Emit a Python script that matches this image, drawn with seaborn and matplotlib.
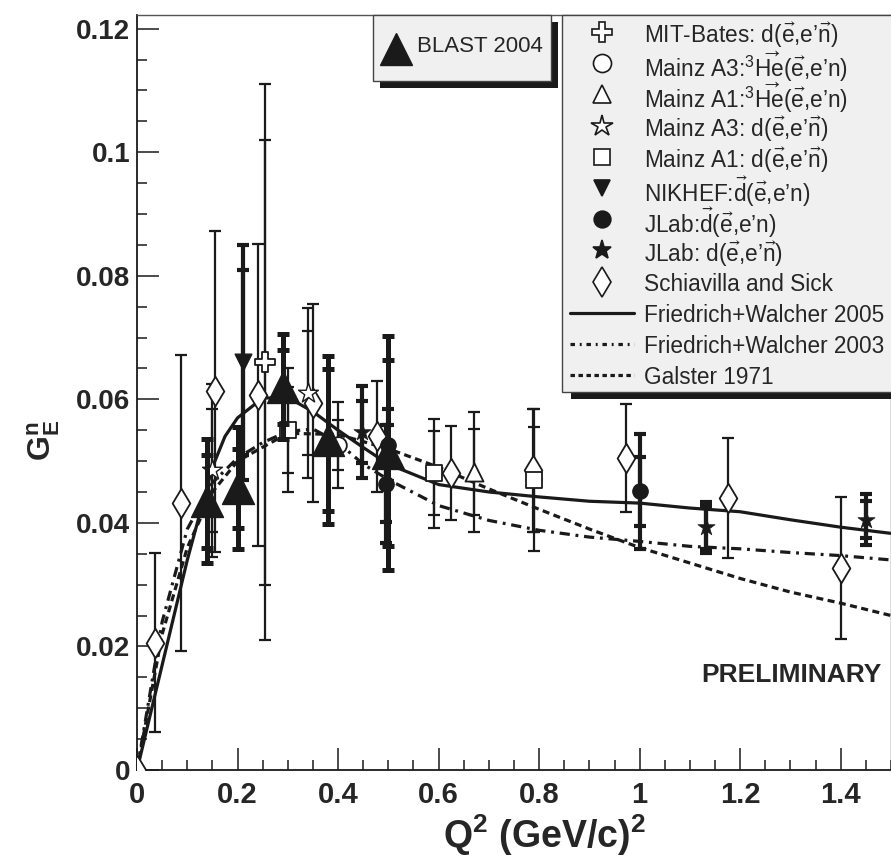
import matplotlib
matplotlib.use("Agg")
import matplotlib.pyplot as plt
import seaborn as sns
from matplotlib.patches import Rectangle
from matplotlib.ticker import MultipleLocator, FuncFormatter

# ---------------- data ----------------
# BLAST 2004
blast_q2 = [0.14, 0.20, 0.29, 0.38, 0.50]
blast_ge = [0.0435, 0.0456, 0.0620, 0.0534, 0.0513]
blast_stat = [0.0075, 0.0064, 0.0060, 0.0115, 0.0150]
blast_tot = [0.0100, 0.0099, 0.0085, 0.0136, 0.0190]

# MIT-Bates d(e,e'n)
bates_q2 = [0.255]
bates_ge = [0.066]
bates_stat = [0.036]
bates_tot = [0.045]

# Mainz A3 3He
a3he_q2 = [0.40]
a3he_ge = [0.0526]
a3he_stat = [0.0040]
a3he_tot = [0.0070]

# Mainz A1 3He
a1he_q2 = [0.67]
a1he_ge = [0.0482]
a1he_stat = [0.0070]
a1he_tot = [0.0097]

# Mainz A3 d(e,e'n)
a3d_q2 = [0.15, 0.34]
a3d_ge = [0.0485, 0.0610]
a3d_stat = [0.0100, 0.0100]
a3d_tot = [0.0140, 0.0138]

# Mainz A1 d(e,e'n)
a1d_q2 = [0.30, 0.59, 0.79]
a1d_ge = [0.0550, 0.0480, 0.0470]
a1d_stat = [0.0070, 0.0068, 0.0085]
a1d_tot = [0.0100, 0.0088, 0.0115]

# NIKHEF
nik_q2 = [0.21]
nik_ge = [0.066]
nik_stat = [0.015]
nik_tot = [0.019]

# JLab polarised deuterium target
jlt_q2 = [0.495, 0.50, 1.00]
jlt_ge = [0.0463, 0.0526, 0.0451]
jlt_stat = [0.0062, 0.0033, 0.0056]
jlt_tot = [0.0096, 0.0059, 0.0093]

# JLab recoil polarimetry
jlr_q2 = [0.447, 1.132, 1.45]
jlr_ge = [0.0547, 0.0393, 0.0405]
jlr_stat = [0.0050, 0.0035, 0.0030]
jlr_tot = [0.0075, 0.0041, 0.0041]

# Schiavilla and Sick
ss_q2 = [0.0, 0.035, 0.087, 0.155, 0.24, 0.35, 0.477, 0.624, 0.787, 0.973, 1.176, 1.40]
ss_ge = [0.0, 0.0206, 0.0432, 0.0613, 0.0607, 0.0594, 0.0540, 0.0480, 0.0485, 0.0505, 0.0440, 0.0327]
ss_err = [0.0, 0.0145, 0.0240, 0.0260, 0.0245, 0.0160, 0.0090, 0.0076, 0.0100, 0.0087, 0.0097, 0.0115]

# curves
fw05_q2 = [0.0, 0.025, 0.05, 0.075, 0.1, 0.125, 0.15, 0.175, 0.2, 0.25, 0.3, 0.35, 0.4, 0.45,
           0.5, 0.6, 0.7, 0.8, 0.9, 1.0, 1.1, 1.2, 1.3, 1.4, 1.5]
fw05_ge = [0.0, 0.0085, 0.017, 0.0255, 0.034, 0.0415, 0.049, 0.054, 0.057, 0.0602, 0.0603,
           0.0580, 0.0550, 0.0522, 0.0495, 0.0462, 0.0450, 0.0442, 0.0435, 0.0432, 0.0424,
           0.0418, 0.0405, 0.0393, 0.0383]
fw03_q2 = [0.0, 0.05, 0.1, 0.15, 0.2, 0.25, 0.3, 0.35, 0.4, 0.45, 0.5, 0.6, 0.7, 0.8, 0.9,
           1.0, 1.1, 1.2, 1.3, 1.4, 1.5]
fw03_ge = [0.0, 0.024, 0.039, 0.0465, 0.0505, 0.0530, 0.0548, 0.0552, 0.0530, 0.0495, 0.0470,
           0.0428, 0.0404, 0.0388, 0.0377, 0.0370, 0.0362, 0.0358, 0.0352, 0.0347, 0.0340]
gal_q2 = [0.0, 0.05, 0.1, 0.15, 0.2, 0.3, 0.4, 0.5, 0.6, 0.7, 0.8, 0.9, 1.0, 1.1, 1.2, 1.3,
          1.4, 1.5]
gal_ge = [0.0, 0.022, 0.036, 0.045, 0.050, 0.0545, 0.0543, 0.0520, 0.0490, 0.0455, 0.0422,
          0.0390, 0.0360, 0.0335, 0.0310, 0.0288, 0.0270, 0.0250]

xticks = [0, 0.2, 0.4, 0.6, 0.8, 1.0, 1.2, 1.4]
yticks = [0, 0.02, 0.04, 0.06, 0.08, 0.1, 0.12]

legend_labels = [
    r"MIT-Bates: d($\vec{\mathrm{e}}$,e’$\vec{\mathrm{n}}$)",
    r"Mainz A3:$^3\overrightarrow{\mathrm{He}}$($\vec{\mathrm{e}}$,e’n)",
    r"Mainz A1:$^3\overrightarrow{\mathrm{He}}$($\vec{\mathrm{e}}$,e’n)",
    r"Mainz A3: d($\vec{\mathrm{e}}$,e’$\vec{\mathrm{n}}$)",
    r"Mainz A1: d($\vec{\mathrm{e}}$,e’$\vec{\mathrm{n}}$)",
    r"NIKHEF:$\vec{\mathrm{d}}$($\vec{\mathrm{e}}$,e’n)",
    r"JLab:$\vec{\mathrm{d}}$($\vec{\mathrm{e}}$,e’n)",
    r"JLab: d($\vec{\mathrm{e}}$,e’$\vec{\mathrm{n}}$)",
    "Schiavilla and Sick",
    "Friedrich+Walcher 2005",
    "Friedrich+Walcher 2003",
    "Galster 1971",
]

# ---------------- style ----------------
sns.set_theme(style="ticks")
plt.rcParams["font.family"] = ["Liberation Sans", "DejaVu Sans"]
plt.rcParams["mathtext.fontset"] = "custom"
plt.rcParams["mathtext.rm"] = "Liberation Sans"
plt.rcParams["mathtext.it"] = "Liberation Sans:italic"
plt.rcParams["mathtext.bf"] = "Liberation Sans:bold"
plt.rcParams["mathtext.fallback"] = "stixsans"

dash_dot = (0, (3.2, 1.8, 0.9, 1.8))
dashed = (0, (2.2, 1.4))

fig = plt.figure(figsize=(8.91, 8.64), dpi=100)
ax = fig.add_axes([0.1538, 0.1088, 0.8462, 0.8738])

# curves
sns.lineplot(x=fw05_q2, y=fw05_ge, ax=ax, color="k", lw=2.3, sort=False, zorder=2)
sns.lineplot(x=fw03_q2, y=fw03_ge, ax=ax, color="k", lw=2.3, sort=False, zorder=2,
             linestyle=dash_dot)
sns.lineplot(x=gal_q2, y=gal_ge, ax=ax, color="k", lw=2.3, sort=False, zorder=2,
             linestyle=dashed)


def points(q2, ge, stat, tot, marker, ms, face, elw, mew, z=3):
    ax.errorbar(q2, ge, yerr=tot, fmt="none", ecolor="k", elinewidth=elw,
                capsize=4.5, capthick=elw, zorder=z)
    if stat is not None:
        ax.errorbar(q2, ge, yerr=stat, fmt="none", ecolor="k", elinewidth=elw,
                    capsize=4.5, capthick=elw, zorder=z)
    sns.scatterplot(x=q2, y=ge, ax=ax, marker=marker, s=ms ** 2, color=face,
                    edgecolor="k", linewidth=mew, zorder=z + 0.5, legend=False)


points(ss_q2, ss_ge, ss_err, None, "d", 15, "white", 1.6, 1.3)
points(bates_q2, bates_ge, bates_stat, bates_tot, "P", 14, "white", 1.6, 1.3)
points(a3he_q2, a3he_ge, a3he_stat, a3he_tot, "o", 12, "white", 1.6, 1.3)
points(a1he_q2, a1he_ge, a1he_stat, a1he_tot, "^", 13, "white", 1.6, 1.3)
points(a3d_q2, a3d_ge, a3d_stat, a3d_tot, "*", 15, "white", 1.6, 1.0)
points(a1d_q2, a1d_ge, a1d_stat, a1d_tot, "s", 12, "white", 1.6, 1.3)
points(nik_q2, nik_ge, nik_stat, nik_tot, "v", 12, "k", 3.0, 1.0)
points(jlt_q2, jlt_ge, jlt_stat, jlt_tot, "o", 11, "k", 3.0, 1.0)
points(jlr_q2, jlr_ge, jlr_stat, jlr_tot, "*", 13, "k", 3.0, 0.5)
points(blast_q2, blast_ge, blast_stat, blast_tot, "^", 23, "k", 3.6, 1.0, z=4)

# axes
ax.set_xlim(0, 1.5)
ax.set_ylim(0, 0.1222)
ax.set_xticks(xticks)
ax.set_yticks(yticks)
ax.xaxis.set_minor_locator(MultipleLocator(0.05))
ax.yaxis.set_minor_locator(MultipleLocator(0.005))
fmt = FuncFormatter(lambda v, p: f"{v:g}")
ax.xaxis.set_major_formatter(fmt)
ax.yaxis.set_major_formatter(fmt)
ax.tick_params(which="both", direction="in", top=False, right=False, width=1.1, color="k")
ax.tick_params(which="major", length=16, pad=5)
ax.tick_params(which="minor", length=7.5)
ax.tick_params(axis="y", which="major", labelsize=20)
ax.tick_params(axis="x", which="major", labelsize=21, pad=8)
for lab in ax.get_xticklabels() + ax.get_yticklabels():
    lab.set_fontweight("bold")
for s in ["left", "bottom"]:
    ax.spines[s].set_color("k")
    ax.spines[s].set_linewidth(1.3)
for s in ["top", "right"]:
    ax.spines[s].set_color("#555555")
    ax.spines[s].set_linewidth(1.0)

ax.set_xlabel(r"Q$^\mathbf{2}$ (GeV/c)$^\mathbf{2}$", fontsize=27, fontweight="bold")
ax.xaxis.set_label_coords(0.54, -0.056)
ax.set_ylabel(r"$\mathbf{G_E^n}$", fontsize=23, fontweight="bold")
ax.yaxis.set_label_coords(-0.099, 0.437)

ax.text(0.988, 0.126, "PRELIMINARY", transform=ax.transAxes, ha="right", va="center",
        fontsize=19, fontweight="bold")

# ---------------- ROOT-style legend boxes (drawn in axes fraction) ----------------
px = 1 / 755.0  # one pixel in axes fraction (axes is 755 px wide and tall)
box_kw = dict(transform=ax.transAxes, clip_on=False)

# BLAST box
bx0, bx1, by0 = 0.3126, 0.5497, 0.9126
ax.add_patch(Rectangle((bx0 + 7 * px, by0 - 7 * px), bx1 - bx0, 1 - by0, fc="k", ec="none",
                       zorder=8, **box_kw))
ax.add_patch(Rectangle((bx0, by0), bx1 - bx0, 1 - by0, fc="#f0f0f0", ec="#444444", lw=1.0,
                       zorder=9, **box_kw))
ax.plot([bx0 + 23 * px], [0.955], ls="none", marker="^", ms=23, color="k", zorder=10,
        **box_kw)
ax.text(bx0 + 44 * px, 0.9586, "BLAST 2004", fontsize=16, va="center", zorder=10,
        transform=ax.transAxes)

# main legend
lx0, lx1, ly0 = 0.5642, 1.03, 0.5007
ax.add_patch(Rectangle((lx0 + 9 * px, ly0 - 7 * px), lx1 - lx0, 1 - ly0, fc="k", ec="none",
                       zorder=8, **box_kw))
ax.add_patch(Rectangle((lx0, ly0), lx1 - lx0, 1 - ly0, fc="#f0f0f0", ec="#444444", lw=1.0,
                       zorder=9, **box_kw))
handle_styles = [
    ("P", 14, "white"), ("o", 13, "white"), ("^", 13, "white"), ("*", 16, "white"),
    ("s", 12, "white"), ("v", 12, "k"), ("o", 12, "k"), ("*", 14, "k"), ("d", 15, "white"),
]
line_styles = ["-", (0, (1.4, 1.5, 0.6, 1.5)), (0, (1.4, 1.1))]
for i, lab in enumerate(legend_labels):
    yy = 1 - (17 + 31.2 * i) * px
    if i < len(handle_styles):
        m, ms, fc = handle_styles[i]
        ax.plot([lx0 + 40 * px], [yy], ls="none", marker=m, ms=ms, mfc=fc, mec="k",
                mew=1.2, zorder=10, **box_kw)
    else:
        ax.plot([lx0 + 8 * px, lx0 + 72 * px], [yy, yy], color="k", lw=2.3,
                ls=line_styles[i - len(handle_styles)], zorder=10, **box_kw)
    ax.text(lx0 + 82 * px, yy, lab, fontsize=16.3, va="center_baseline", zorder=10,
            transform=ax.transAxes)

fig.savefig("out.png", dpi=100)
